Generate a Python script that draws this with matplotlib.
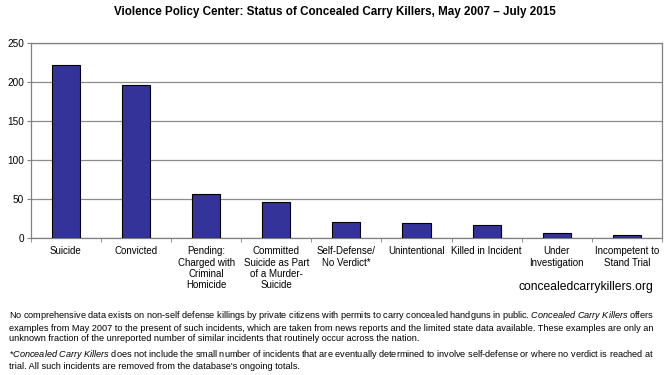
import matplotlib
matplotlib.use("Agg")
import matplotlib.pyplot as plt
import numpy as np

plt.rcParams['font.family'] = ['Liberation Sans', 'DejaVu Sans']
plt.rcParams['mathtext.fontset'] = 'custom'
plt.rcParams['mathtext.rm'] = 'Liberation Sans'
plt.rcParams['mathtext.it'] = 'Liberation Sans:italic'

# ---------------- datos ----------------
categorias = ["Suicide", "Convicted", "Pending:\nCharged with\nCriminal\nHomicide",
              "Committed\nSuicide as Part\nof a Murder-\nSuicide", "Self-Defense/\nNo Verdict*",
              "Unintentional", "Killed in Incident", "Under\nInvestigation",
              "Incompetent to\nStand Trial"]
valores = [222, 196, 57, 46, 21, 20, 17, 6, 4]
yticks = [0, 50, 100, 150, 200, 250]

fig = plt.figure(figsize=(6.7, 3.75), dpi=100)
ax = fig.add_axes([0.046, 0.365, 0.942, 0.52])

x = np.arange(len(categorias))
ax.bar(x, valores, width=0.4, color="#333399", edgecolor="black", linewidth=0.8, zorder=3)

ax.set_xlim(-0.5, len(categorias) - 0.5)
ax.set_ylim(0, 250)
ax.set_yticks(yticks)
ax.yaxis.grid(True, color="#8c8c8c", linewidth=0.9, zorder=0)
ax.tick_params(axis="y", labelsize=7.2, length=3, color="#808080", pad=2)

ax.set_xticks(x)
ax.set_xticklabels(categorias, fontsize=7.05, linespacing=1.15, va="top")
ax.set_xticks(np.arange(len(categorias) + 1) - 0.5, minor=True)
ax.tick_params(axis="x", which="major", length=0, pad=6)
ax.tick_params(axis="x", which="minor", length=3, color="#808080")

for s in ax.spines.values():
    s.set_color("#808080")
    s.set_linewidth(0.9)

fig.text(0.5, 0.969, "Violence Policy Center: Status of Concealed Carry Killers, May 2007 \u2013 July 2015",
         ha="center", va="center", fontsize=8.4, fontweight="bold")

fig.text(0.975, 0.235, "concealedcarrykillers.org", ha="right", va="center", fontsize=8.7)

cck = r"$\it{Concealed\ Carry\ Killers}$"
p1 = ("No comprehensive data exists on non-self defense killings by private citizens with permits to carry concealed handguns in public. "
      + cck + " offers\n"
      "examples from May 2007 to the present of such incidents, which are taken from news reports and the limited state data available. These examples are only an\n"
      "unknown fraction of the unreported number of similar incidents that routinely occur across the nation.")
p2 = ("*" + cck + " does not include the small number of incidents that are eventually determined to involve self-defense or where no verdict is reached at\n"
      "trial. All such incidents are removed from the database's ongoing totals.")
fig.text(0.013, 0.175, p1, ha="left", va="top", fontsize=6.6, linespacing=1.2)
fig.text(0.013, 0.073, p2, ha="left", va="top", fontsize=6.6, linespacing=1.2)

plt.savefig("out.png", dpi=100)
